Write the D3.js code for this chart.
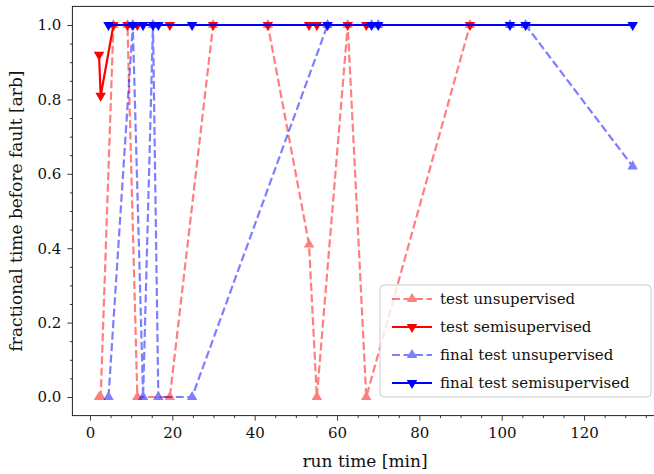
<!DOCTYPE html>
<html><head><meta charset="utf-8">
<script src="https://cdn.jsdelivr.net/npm/d3@7"></script>
<style>
html,body{margin:0;padding:0;background:#fff;}
svg{display:block;}
text{font-family:"DejaVu Serif","Liberation Serif",serif;fill:#111;}
</style></head>
<body>
<svg id="chart" width="654" height="474"></svg>
<script>
// Data
const testX = [2.2, 2.6, 5.7, 9.1, 11.5, 19.4, 29.9, 43.2, 53.2, 55.1, 62.6, 67.1, 92.3];
const testUnsup = [0, 0, 1, 1, 0, 0, 1, 1, 0.41, 0, 1, 0, 1];
const testSemi = [0.92, 0.81, 1, 1, 1, 1, 1, 1, 1, 1, 1, 1, 1];
const finalX = [4.5, 10.4, 12.9, 15.3, 16.6, 24.8, 57.7, 68.4, 70.0, 102.0, 105.8, 131.8];
const finalUnsup = [0, 1, 0, 1, 0, 0, 1, 1, 1, 1, 1, 0.62];
const finalSemi = [1, 1, 1, 1, 1, 1, 1, 1, 1, 1, 1, 1];
const xTicks = [0, 20, 40, 60, 80, 100, 120];
const yTicks = [0.0, 0.2, 0.4, 0.6, 0.8, 1.0];
const seriesNames = ["test unsupervised", "test semisupervised", "final test unsupervised", "final test semisupervised"];

const svg = d3.select("#chart");
const L = 72.4, R = 658.6, T = 6.4, B = 415.6;
const x = d3.scaleLinear().domain([-4.27, 138.1]).range([L, R]);
const y = d3.scaleLinear().domain([-0.05, 1.05]).range([B, T]);

const series = [
  {name: seriesNames[0], xs: testX, ys: testUnsup, color: "#ff0000", op: 0.5, dash: "8,3.5", up: true},
  {name: seriesNames[1], xs: testX, ys: testSemi, color: "#ff0000", op: 1, dash: null, up: false},
  {name: seriesNames[2], xs: finalX, ys: finalUnsup, color: "#0000ff", op: 0.5, dash: "8,3.5", up: true},
  {name: seriesNames[3], xs: finalX, ys: finalSemi, color: "#0000ff", op: 1, dash: null, up: false}
];

const tri = d3.symbol().type(d3.symbolTriangle).size(48);

const plot = svg.append("g");
const line = d3.line().x(d => x(d[0])).y(d => y(d[1]));

series.forEach(s => {
  const pts = s.xs.map((v, i) => [v, s.ys[i]]);
  const g = plot.append("g").attr("opacity", s.op);
  g.append("path").datum(pts).attr("d", line)
    .attr("fill", "none").attr("stroke", s.color).attr("stroke-width", 2.2)
    .attr("stroke-dasharray", s.dash);
  g.selectAll("path.m").data(pts).enter().append("path").attr("class", "m")
    .attr("d", tri())
    .attr("transform", d => `translate(${x(d[0])},${y(d[1])}) rotate(${s.up ? 0 : 180})`)
    .attr("fill", s.color);
});

// Axes
const xAxis = d3.axisBottom(x).tickValues(xTicks).tickFormat(d3.format("d")).tickSize(5).tickPadding(7);
const xMinor = d3.axisBottom(x).tickValues(d3.range(0, 140, 5).filter(v => v % 20 !== 0)).tickFormat("").tickSize(2.5);
const yAxis = d3.axisLeft(y).tickValues(yTicks).tickFormat(d3.format(".1f")).tickSize(5).tickPadding(6);
const yMinor = d3.axisLeft(y).tickValues(d3.range(0, 1.001, 0.05).filter(v => Math.abs(v*5 - Math.round(v*5)) > 1e-6)).tickFormat("").tickSize(2.5);

function styleAxis(g){
  g.select(".domain").remove();
  g.selectAll("line").attr("stroke", "#222").attr("stroke-width", 0.9);
  g.selectAll("text").style("font-size", "15px").attr("fill", "#111");
}
svg.append("g").attr("transform", `translate(0,${B})`).call(xAxis).call(styleAxis);
svg.append("g").attr("transform", `translate(0,${B})`).call(xMinor).call(styleAxis);
svg.append("g").attr("transform", `translate(${L},0)`).call(yAxis).call(styleAxis);
svg.append("g").attr("transform", `translate(${L},0)`).call(yMinor).call(styleAxis);

svg.append("rect").attr("x", L).attr("y", T).attr("width", R - L).attr("height", B - T)
  .attr("fill", "none").attr("stroke", "#222").attr("stroke-width", 1);

svg.append("text").attr("x", 365).attr("y", 467).attr("text-anchor", "middle")
  .style("font-size", "17px").text("run time [min]");
svg.append("text").attr("transform", `translate(22,${(T + B) / 2}) rotate(-90)`)
  .attr("text-anchor", "middle").style("font-size", "17px").text("fractional time before fault [arb]");

// Legend
const lg = svg.append("g").attr("transform", "translate(380,285)");
lg.append("rect").attr("x", 0).attr("y", 0).attr("width", 271).attr("height", 112).attr("rx", 4)
  .attr("fill", "#fff").attr("fill-opacity", 0.8).attr("stroke", "#ccc");
series.forEach((s, i) => {
  const yy = 14 + i * 28;
  const g = lg.append("g").attr("opacity", s.op);
  g.append("line").attr("x1", 12).attr("x2", 52).attr("y1", yy).attr("y2", yy)
    .attr("stroke", s.color).attr("stroke-width", 2.2).attr("stroke-dasharray", s.dash);
  g.append("path").attr("d", tri()).attr("transform", `translate(32,${yy}) rotate(${s.up ? 0 : 180})`).attr("fill", s.color);
  lg.append("text").attr("x", 60).attr("y", yy + 5).style("font-size", "15px").text(s.name);
});
</script>
</body></html>
